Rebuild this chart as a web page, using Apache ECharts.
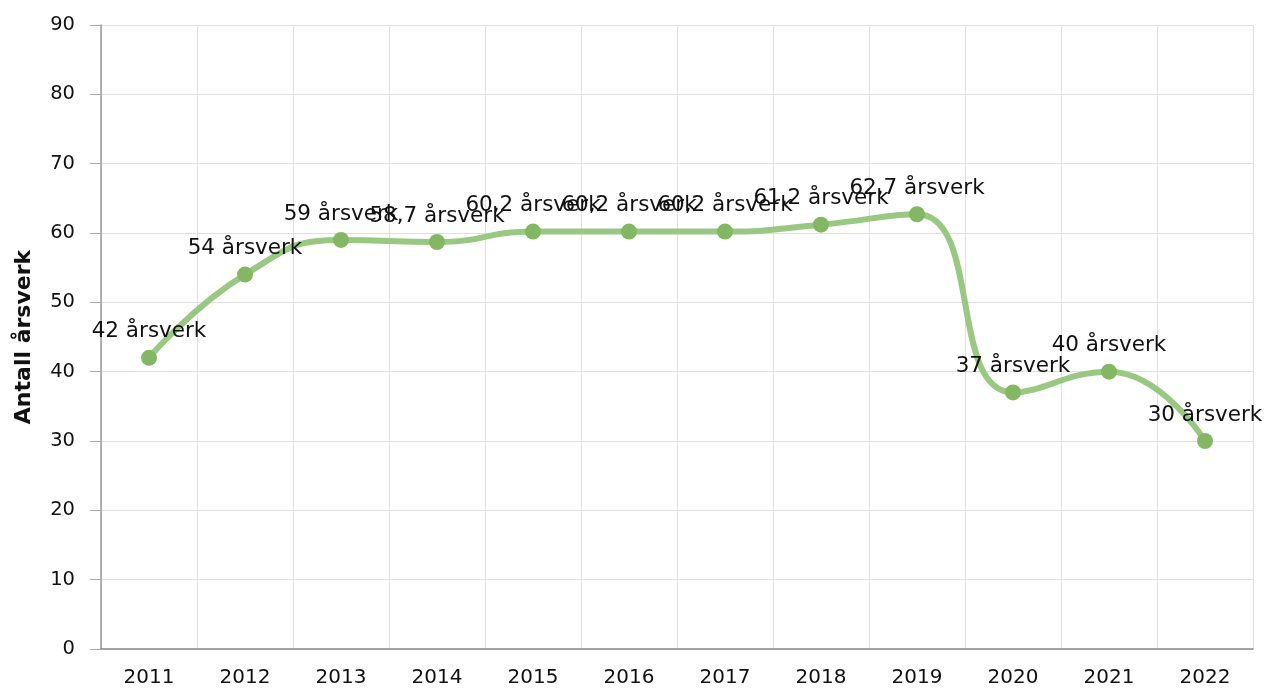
<!DOCTYPE html>
<html>
<head>
<meta charset="utf-8">
<script src="https://cdn.jsdelivr.net/npm/echarts@6/dist/echarts.min.js"></script>
<style>
  html, body { margin: 0; padding: 0; background: #fff; }
  #chart { width: 1266px; height: 695px; }
</style>
</head>
<body>
<div id="chart"></div>
<script>
var years = ['2011', '2012', '2013', '2014', '2015', '2016', '2017', '2018', '2019', '2020', '2021', '2022'];
var aarsverk = [42, 54, 59, 58.7, 60.2, 60.2, 60.2, 61.2, 62.7, 37, 40, 30];
var yTicks = { min: 0, max: 90, interval: 10 };

var chart = echarts.init(document.getElementById('chart'));
var option = {
    animation: false,
    textStyle: { fontFamily: 'DejaVu Sans' },
    grid: { left: 101, right: 13, top: 25, bottom: 46 },
    xAxis: {
        type: 'category',
        data: years,
        boundaryGap: true,
        axisLine: { lineStyle: { color: '#888', width: 1.5 } },
        axisTick: { alignWithLabel: true, interval: 0, length: 7, lineStyle: { color: '#999' } },
        axisLabel: { interval: 0, color: '#111', fontSize: 20, margin: 19 },
        splitLine: { show: true, interval: 0, lineStyle: { color: '#e0e0e0' } }
    },
    yAxis: {
        type: 'value',
        min: yTicks.min,
        max: yTicks.max,
        interval: yTicks.interval,
        name: 'Antall årsverk',
        nameLocation: 'middle',
        nameGap: 66,
        nameTextStyle: { fontSize: 22, fontWeight: 'bold', color: '#111' },
        axisLine: { show: true, lineStyle: { color: '#999', width: 1.5 } },
        axisTick: { show: true, length: 11, lineStyle: { color: '#aaa' } },
        axisLabel: { color: '#111', fontSize: 19.5, margin: 26 },
        splitLine: { lineStyle: { color: '#e0e0e0' } }
    },
    series: [{
        type: 'line',
        data: aarsverk,
        smooth: 0.5,
        symbol: 'circle',
        symbolSize: 16,
        lineStyle: { color: '#99c883', width: 6 },
        itemStyle: { color: '#83b764' },
        label: {
            show: true,
            position: 'top',
            distance: 7,
            fontSize: 21.5,
            color: '#111',
            formatter: function (p) {
                return String(p.value).replace('.', ',') + ' årsverk';
            }
        }
    }]
};
chart.setOption(option);
</script>
</body>
</html>
